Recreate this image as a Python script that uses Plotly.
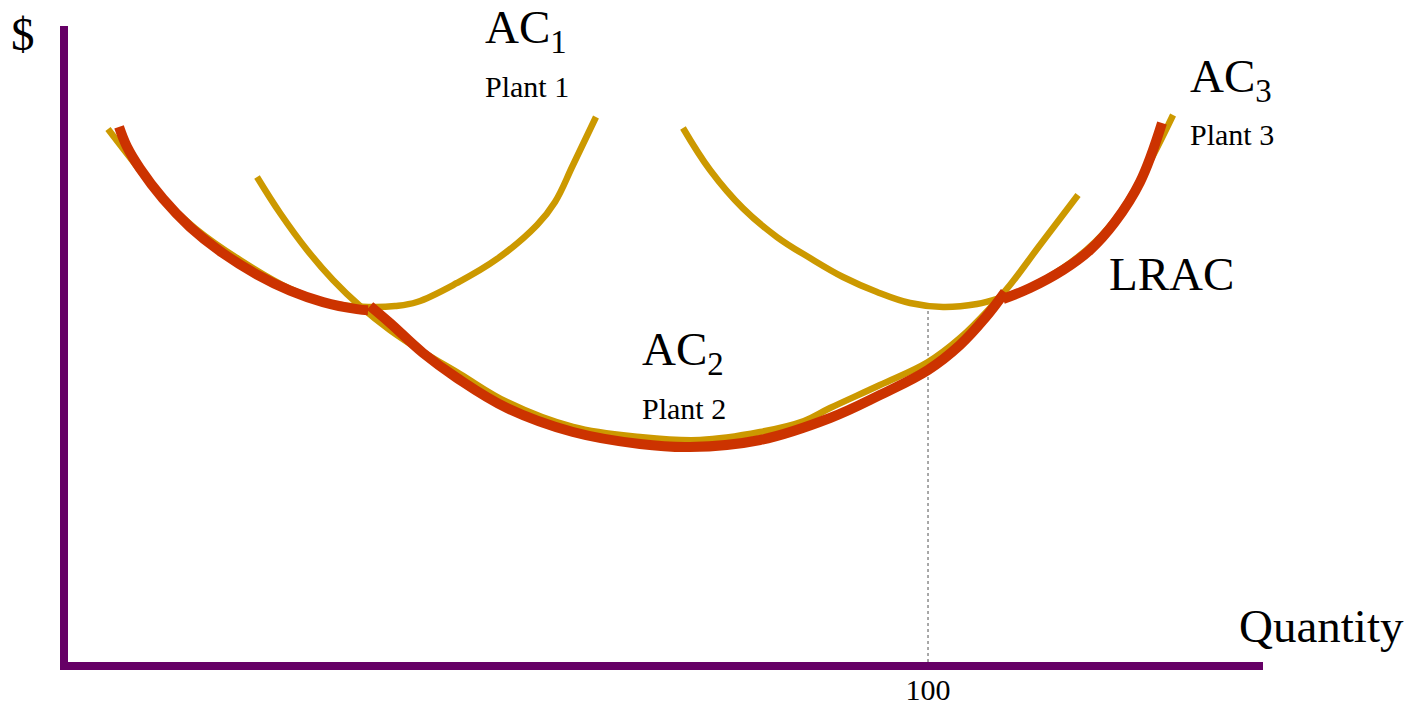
import plotly.graph_objects as go

# Short-run average cost curves for three plant sizes and the long-run envelope.
# Quantity on x, cost ($) on y.
ac1_q = [5.09, 7.41, 11.11, 15.16, 20.37, 26.16, 30.79, 35.42, 38.31, 40.86, 45.49, 50.12, 54.75, 56.83, 58.91, 61.57]
ac1_c = [88.83, 84.5, 77.83, 72.3, 67.0, 62.2, 59.8, 59.17, 59.33, 60.0, 63.17, 67.17, 72.83, 76.67, 82.83, 90.83]

ac2_q = [22.34, 25.0, 28.13, 31.13, 34.26, 37.73, 41.55, 45.83, 51.27, 58.91, 66.67, 73.61, 80.56, 85.65, 88.66, 94.44, 100.0, 103.7, 107.18, 109.49, 112.96, 117.36]
ac2_c = [80.83, 74.83, 68.67, 63.67, 59.33, 55.33, 51.67, 48.0, 43.33, 39.17, 37.5, 37.0, 38.33, 40.17, 42.33, 46.17, 50.0, 54.0, 59.0, 62.83, 69.5, 77.83]

ac3_q = [71.64, 74.77, 78.59, 82.52, 86.34, 90.16, 94.1, 97.92, 101.74, 105.67, 108.33, 111.81, 115.63, 119.33, 122.45, 125.46, 128.36]
ac3_c = [89.0, 82.0, 75.6, 70.83, 67.33, 64.17, 61.67, 59.83, 59.17, 59.67, 60.67, 62.5, 65.67, 70.0, 75.33, 82.83, 91.17]

# LRAC is drawn in three pieces, one along each plant's curve
lrac1_q = [6.37, 7.29, 8.80, 11.46, 14.58, 18.40, 22.34, 26.16, 29.98, 33.91, 35.19]
lrac1_c = [89.17, 85.86, 82.24, 77.19, 72.51, 68.12, 64.57, 61.9, 59.99, 58.81, 58.62]

lrac2_q = [35.42, 37.73, 41.55, 45.49, 51.27, 58.91, 66.67, 72.45, 80.56, 88.66, 94.44, 100.0, 103.7, 106.6, 108.91]
lrac2_c = [59.33, 56.5, 51.5, 47.33, 42.33, 38.33, 36.33, 35.83, 37.0, 40.67, 44.5, 48.67, 52.83, 57.33, 61.67]

lrac3_q = [108.68, 111.81, 115.63, 118.75, 121.64, 124.54, 127.08]
lrac3_c = [60.5, 62.33, 65.33, 68.67, 73.33, 80.0, 89.83]

# Output level marked on the quantity axis (minimum of AC3 lies above it)
q_mark = 100
q_mark_cost = 59.17

x_ticks = [100]
x_tick_labels = ["100"]

GOLD = "#CC9900"
RED = "#CC3300"
PURPLE = "#660066"
SERIF = "Liberation Serif"

fig = go.Figure()

fig.add_trace(go.Scatter(x=[q_mark, q_mark], y=[0, q_mark_cost], mode="lines",
                         line=dict(color="#8c8c8c", width=1.5, dash="dot")))

for q, c in [(ac1_q, ac1_c), (ac2_q, ac2_c), (ac3_q, ac3_c)]:
    fig.add_trace(go.Scatter(x=q, y=c, mode="lines",
                             line=dict(color=GOLD, width=6.5, shape="spline", smoothing=1.1)))

for q, c in [(lrac1_q, lrac1_c), (lrac2_q, lrac2_c), (lrac3_q, lrac3_c)]:
    fig.add_trace(go.Scatter(x=q, y=c, mode="lines",
                             line=dict(color=RED, width=10, shape="spline", smoothing=1.1)))

big = dict(family=SERIF, size=47, color="black")
small = dict(family=SERIF, size=30, color="black")

labels = [
    ("AC<sub>1</sub>", 48.5, 105.33, big),
    ("Plant 1", 48.5, 95.87, small),
    ("AC<sub>2</sub>", 66.67, 51.6, big),
    ("Plant 2", 66.67, 42.17, small),
    ("AC<sub>3</sub>", 130.1, 97.15, big),
    ("Plant 3", 130.1, 87.87, small),
    ("LRAC", 120.7, 64.67, big),
    ("Quantity", 135.76, 6.0, big),
]
for text, x, y, font in labels:
    fig.add_annotation(x=x, y=y, text=text, showarrow=False, xanchor="left",
                       yanchor="middle", font=font)

# y-axis title sits to the left of the axis, outside the data range
fig.add_annotation(x=-0.0495, y=0.988, xref="paper", yref="paper", text="$",
                   showarrow=False, xanchor="left", yanchor="middle", font=big)

fig.update_layout(
    width=1412, height=708,
    margin=dict(l=68, r=149, t=26, b=46),
    paper_bgcolor="white", plot_bgcolor="white",
    showlegend=False,
    xaxis=dict(range=[0.463, 138.77], showgrid=False, zeroline=False, automargin=False,
               showline=True, linecolor=PURPLE, linewidth=8,
               tickvals=x_ticks, ticktext=x_tick_labels, ticks="",
               ticklabelstandoff=-6,
               tickfont=dict(family=SERIF, size=30, color="black")),
    yaxis=dict(range=[0, 106], showgrid=False, zeroline=False, automargin=False,
               showline=True, linecolor=PURPLE, linewidth=8,
               showticklabels=False, ticks=""),
)

fig.write_html("out.html")
